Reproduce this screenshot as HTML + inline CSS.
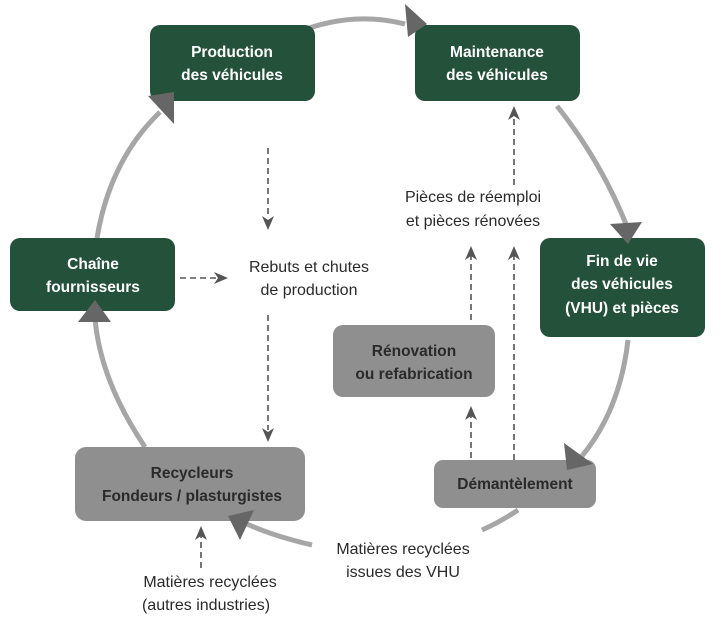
<!DOCTYPE html>
<html><head><meta charset="utf-8"><style>
html,body{margin:0;padding:0;background:#fff;}
svg{display:block;}
text{font-family:"Liberation Sans",sans-serif;}
.w{fill:#fff;font-size:15.5px;font-weight:bold;text-anchor:middle;}
.d{fill:#2a2a2a;font-size:15.5px;font-weight:bold;text-anchor:middle;}
.l{fill:#2a2a2a;font-size:16px;text-anchor:middle;}
.arc{fill:none;stroke:#a6a6a6;stroke-width:5;}
.ds{stroke:#555;stroke-width:1.6;stroke-dasharray:6,4;fill:none;}
</style></head><body>
<svg width="727" height="620" viewBox="0 0 727 620">
<!-- arcs -->
<path class="arc" d="M293,34 Q350,10 405,24"/>
<path class="arc" d="M557,106 Q600,160 626,224"/>
<path class="arc" d="M628,340 Q620,410 582,456"/>
<path class="arc" d="M518,510 Q500,522 482,530"/>
<path class="arc" d="M312,545 Q270,535 245,523"/>
<path class="arc" d="M145,447 Q100,380 95,318"/>
<path class="arc" d="M97,238 Q110,160 160,112"/>
<!-- dashed arrows -->
<line class="ds" x1="268" y1="148" x2="268" y2="218"/>
<polygon points="262,216 268,230 274,216 268,220" fill="#555"/>
<line class="ds" x1="268" y1="315" x2="268" y2="430"/>
<polygon points="262,428 268,442 274,428 268,432" fill="#555"/>
<line class="ds" x1="180" y1="278" x2="216" y2="278"/>
<polygon points="214,272 228,278 214,284 218,278" fill="#555"/>
<line class="ds" x1="514" y1="185" x2="514" y2="112"/>
<polygon points="508,120 514,106 520,120 514,116" fill="#555"/>
<line class="ds" x1="471" y1="320" x2="471" y2="252"/>
<polygon points="465,260 471,246 477,260 471,256" fill="#555"/>
<line class="ds" x1="514" y1="460" x2="514" y2="252"/>
<polygon points="508,260 514,246 520,260 514,256" fill="#555"/>
<line class="ds" x1="471" y1="458" x2="471" y2="412"/>
<polygon points="465,420 471,406 477,420 471,416" fill="#555"/>
<line class="ds" x1="201" y1="568" x2="201" y2="532"/>
<polygon points="195,540 201,526 207,540 201,536" fill="#555"/>
<!-- boxes -->
<rect x="150" y="25" width="165" height="76" rx="10" fill="#24513a"/>
<text class="w" x="232" y="57">Production</text><text class="w" x="232" y="80">des véhicules</text>
<rect x="415" y="25" width="165" height="76" rx="10" fill="#24513a"/>
<text class="w" x="497" y="57">Maintenance</text><text class="w" x="497" y="80">des véhicules</text>
<rect x="10" y="238" width="165" height="73" rx="10" fill="#24513a"/>
<text class="w" x="93" y="269">Chaîne</text><text class="w" x="93" y="292">fournisseurs</text>
<rect x="540" y="238" width="165" height="99" rx="10" fill="#24513a"/>
<text class="w" x="622" y="266">Fin de vie</text><text class="w" x="622" y="289">des véhicules</text><text class="w" x="622" y="313">(VHU) et pièces</text>
<rect x="333" y="325" width="162" height="72" rx="10" fill="#8f8f8f"/>
<text class="d" x="414" y="356">Rénovation</text><text class="d" x="414" y="379">ou refabrication</text>
<rect x="75" y="447" width="230" height="74" rx="11" fill="#8f8f8f"/>
<text class="d" x="192" y="478">Recycleurs</text><text class="d" x="192" y="501">Fondeurs / plasturgistes</text>
<rect x="434" y="460" width="162" height="48" rx="9" fill="#8f8f8f"/>
<text class="d" x="515" y="489">Démantèlement</text>
<!-- arrowheads on top -->
<polygon points="405,4 427,24 408,37" fill="#666"/>
<polygon points="610,224 642,222 628,244" fill="#666"/>
<polygon points="564,443 593,464 567,470" fill="#666"/>
<polygon points="228,516 254,510 240,540" fill="#666"/>
<polygon points="78,322 95,300 111,322" fill="#666"/>
<polygon points="148,96 174,92 174,124" fill="#666"/>
<!-- labels -->
<text class="l" x="473" y="202">Pièces de réemploi</text>
<text class="l" x="473" y="226">et pièces rénovées</text>
<text class="l" x="309" y="272">Rebuts et chutes</text>
<text class="l" x="309" y="295">de production</text>
<text class="l" x="403" y="554">Matières recyclées</text>
<text class="l" x="403" y="577">issues des VHU</text>
<text class="l" x="210" y="587">Matières recyclées</text>
<text class="l" x="206" y="610">(autres industries)</text>
</svg>
</body></html>
